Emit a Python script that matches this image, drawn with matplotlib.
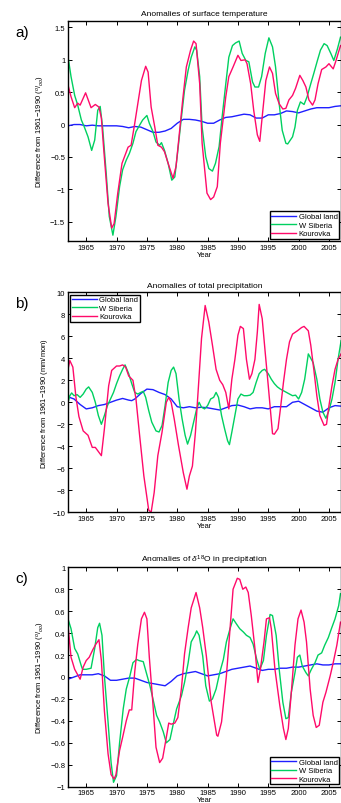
import matplotlib
matplotlib.use('Agg')
import matplotlib.pyplot as plt
from matplotlib.ticker import FuncFormatter

plt.rcParams['font.family'] = ['Liberation Sans', 'DejaVu Sans']
plt.rcParams['mathtext.fontset'] = 'custom'
plt.rcParams['mathtext.rm'] = 'Liberation Sans'
plt.rcParams['mathtext.it'] = 'Liberation Sans:italic'

# ---- a) surface temperature ----
temp_global_yr = [1962, 1963, 1964, 1965, 1966, 1967, 1968, 1969, 1970, 1971, 1972, 1973, 1974, 1975,
                  1976, 1977, 1978, 1979, 1980, 1981, 1982, 1983, 1984, 1985, 1986, 1987, 1988, 1989,
                  1990, 1991, 1992, 1993, 1994, 1995, 1996, 1997, 1998, 1999, 2000, 2001, 2002, 2003,
                  2004, 2005, 2006, 2007]
temp_global = [-0.02, 0.0, 0.0, -0.02, -0.01, -0.02, -0.02, -0.02, -0.02, -0.03, -0.05, -0.03, -0.04, -0.08,
               -0.12, -0.12, -0.1, -0.06, 0.02, 0.08, 0.08, 0.07, 0.05, 0.02, 0.02, 0.07, 0.11, 0.12,
               0.14, 0.16, 0.15, 0.1, 0.1, 0.15, 0.15, 0.17, 0.21, 0.2, 0.18, 0.21, 0.24, 0.26,
               0.26, 0.26, 0.28, 0.29]

temp_wsib_yr = [1962, 1962.5, 1963.1, 1963.6, 1964.2, 1964.7, 1965.3, 1965.9, 1966.4, 1966.9, 1967.3, 1967.7,
                1968.3, 1968.8, 1969.4, 1969.9, 1970.5, 1971, 1971.6, 1972.1, 1972.7, 1973.2, 1973.8, 1974.3,
                1975, 1975.4, 1976, 1976.5, 1977.1, 1977.4, 1977.9, 1978.5, 1979.1, 1979.6, 1980.1, 1980.7,
                1981.2, 1981.8, 1982.3, 1982.9, 1983.2, 1983.7, 1984.1, 1984.7, 1985.2, 1985.8, 1986.3,
                1986.9, 1987.4, 1988, 1988.5, 1989.1, 1989.6, 1990.2, 1990.7, 1991.3, 1991.8, 1992.4,
                1992.8, 1993.4, 1993.9, 1994.5, 1995.1, 1995.7, 1996.2, 1996.8, 1997.3, 1997.9, 1998.2,
                1999, 1999.4, 1999.8, 2000.3, 2000.9, 2001.4, 2002, 2002.5, 2003.1, 2003.6, 2004.2,
                2004.7, 2005.3, 2005.8, 2006.4, 2006.9]
temp_wsib = [1.05, 0.74, 0.45, 0.3, 0.07, -0.04, -0.19, -0.4, -0.24, 0.22, 0.28, -0.04,
             -0.76, -1.42, -1.71, -1.42, -0.96, -0.7, -0.55, -0.45, -0.29, -0.11, -0.01, 0.07,
             0.14, 0.02, -0.11, -0.27, -0.32, -0.28, -0.4, -0.6, -0.86, -0.81, -0.4, 0.12,
             0.53, 0.84, 1.04, 1.2, 1.15, 0.74, -0.04, -0.5, -0.68, -0.72, -0.6,
             -0.34, 0.12, 0.63, 1.04, 1.22, 1.26, 1.29, 1.1, 0.99, 0.97, 0.66,
             0.58, 0.58, 0.74, 1.1, 1.34, 1.2, 0.89, 0.32, -0.09, -0.29, -0.3,
             -0.19, -0.04, 0.22, 0.35, 0.31, 0.43, 0.63, 0.79, 0.99, 1.15, 1.25,
             1.22, 1.1, 0.99, 1.17, 1.35]

temp_kour_yr = [1962, 1962.5, 1963.1, 1963.6, 1964, 1964.9, 1965.8, 1966.5, 1967.1, 1967.5, 1967.9, 1968.6,
                1969.2, 1969.6, 1970.2, 1970.9, 1971.3, 1971.9, 1972.4, 1973, 1973.5, 1974.1, 1974.8,
                1975.2, 1975.7, 1976.3, 1976.8, 1977.4, 1977.9, 1978.5, 1979.3, 1979.8, 1980.4, 1980.9,
                1981.5, 1982.2, 1982.7, 1983.1, 1983.7, 1984.1, 1984.9, 1985.5, 1986, 1986.6, 1987.1,
                1988, 1988.5, 1989.2, 1990, 1990.5, 1991.2, 1991.5, 1992.1, 1992.6, 1993.2, 1993.6,
                1994, 1994.6, 1995.2, 1995.7, 1996.2, 1996.8, 1997.4, 1997.9, 1998.4, 1999, 1999.5,
                2000.2, 2000.7, 2001.2, 2001.7, 2002.3, 2002.7, 2003.2, 2003.8, 2004.5, 2005, 2005.7,
                2006.1, 2006.9]
temp_kour = [0.61, 0.43, 0.26, 0.33, 0.3, 0.49, 0.26, 0.31, 0.27, 0.1, -0.4, -1.22,
             -1.6, -1.53, -1.06, -0.6, -0.5, -0.35, -0.32, 0.02, 0.32, 0.68, 0.9,
             0.81, 0.27, -0.04, -0.32, -0.35, -0.42, -0.6, -0.83, -0.65, -0.09, 0.38,
             0.89, 1.15, 1.29, 1.25, 0.63, -0.29, -1.06, -1.16, -1.12, -0.96, -0.29,
             0.43, 0.74, 0.89, 1.07, 0.99, 1.0, 0.94, 0.63, 0.22, -0.16, -0.26,
             0.12, 0.68, 0.89, 0.79, 0.48, 0.32, 0.24, 0.25, 0.38, 0.45, 0.56,
             0.76, 0.68, 0.58, 0.38, 0.3, 0.38, 0.63, 0.85, 0.89, 0.94, 0.86,
             0.97, 1.22]

# ---- b) total precipitation ----
prec_global_yr = [1962, 1963, 1964, 1965, 1966, 1967, 1968, 1969, 1970, 1971, 1972, 1972.5, 1973, 1974,
                  1975, 1976, 1977, 1978, 1979, 1980, 1981, 1982, 1983, 1984, 1985, 1986, 1987, 1988,
                  1989, 1990, 1991, 1992, 1993, 1994, 1995, 1996, 1997, 1998, 1999, 2000, 2001, 2002,
                  2003, 2004, 2004.5, 2005, 2006, 2007]
prec_global = [0.5, 0.3, -0.2, -0.6, -0.5, -0.3, -0.2, 0.0, 0.2, 0.35, 0.2, 0.15, 0.3, 0.8,
               1.2, 1.15, 0.9, 0.7, 0.3, -0.4, -0.5, -0.4, -0.5, -0.45, -0.5, -0.6, -0.7, -0.5,
               -0.3, -0.25, -0.4, -0.6, -0.5, -0.5, -0.6, -0.4, -0.4, -0.4, 0.0, 0.1, -0.2, -0.5,
               -0.8, -0.9, -0.7, -0.5, -0.3, -0.35]

prec_wsib_yr = [1962, 1962.3, 1962.6, 1963, 1963.5, 1964, 1964.5, 1965, 1965.4, 1966, 1966.5, 1967,
                1967.5, 1968, 1968.5, 1969, 1969.5, 1970, 1970.5, 1971, 1971.4, 1972, 1972.5, 1973,
                1973.5, 1974, 1974.4, 1974.8, 1975.3, 1975.8, 1976.5, 1977, 1977.5, 1978, 1978.5,
                1979, 1979.4, 1979.8, 1980.3, 1980.8, 1981.3, 1981.7, 1982.2, 1982.7, 1983.2, 1983.6,
                1984, 1984.5, 1985, 1985.5, 1986, 1986.4, 1986.8, 1987.3, 1987.8, 1988.3, 1988.6,
                1989, 1989.5, 1990, 1990.5, 1991, 1991.5, 1992, 1992.5, 1993, 1993.5, 1994, 1994.4,
                1995, 1995.5, 1996, 1996.5, 1997, 1997.5, 1998, 1998.5, 1999, 1999.5, 2000, 2000.5,
                2001, 2001.6, 2002, 2002.4, 2003, 2003.5, 2004, 2004.5, 2005, 2005.5, 2006, 2006.5, 2007]
prec_wsib = [0.0, 0.6, 0.85, 0.6, 0.7, 0.45, 0.75, 1.2, 1.4, 0.9, 0.0, -1.2,
             -2.0, -1.2, -0.3, 0.3, 0.9, 1.7, 2.4, 3.0, 3.4, 2.6, 1.7, 0.9,
             0.75, 0.9, 1.0, 0.45, -0.75, -1.8, -2.6, -2.7, -2.1, -0.3, 1.8,
             2.9, 3.2, 2.6, 0.3, -1.5, -3.0, -3.8, -3.0, -1.8, -0.6, 0.0,
             -0.45, -0.6, -0.3, 0.3, 0.45, 0.9, 0.45, -1.2, -2.4, -3.5, -3.85,
             -2.7, -1.2, 0.3, 0.75, 0.6, 0.6, 0.65, 0.9, 1.8, 2.6, 2.9, 3.0,
             2.6, 2.1, 1.7, 1.4, 1.2, 1.05, 0.9, 0.75, 0.6, 0.65, 0.3, 0.9,
             2.1, 4.4, 4.0, 3.6, 2.1, 0.3, -0.9, -1.45, -0.75, 0.3, 1.8, 3.9, 5.6]

prec_kour_yr = [1962, 1962.3, 1962.8, 1963.3, 1963.8, 1964.5, 1965.3, 1966, 1966.5, 1967.5, 1968, 1968.7,
                1969.2, 1970, 1970.5, 1971, 1971.5, 1972, 1972.7, 1973.2, 1973.8, 1974.5, 1975.3,
                1975.7, 1976.2, 1976.8, 1977.5, 1978.2, 1978.6, 1979, 1979.5, 1980.2, 1981, 1981.6,
                1982, 1982.5, 1983, 1983.5, 1984, 1984.6, 1985.2, 1985.8, 1986.4, 1987, 1987.5, 1988,
                1988.5, 1989, 1989.5, 1990, 1990.4, 1990.9, 1991.4, 1991.9, 1992.3, 1992.8, 1993.2,
                1993.5, 1994, 1994.5, 1995, 1995.7, 1996, 1996.6, 1997, 1997.5, 1998, 1998.5, 1999,
                1999.8, 2000.5, 2000.9, 2001.6, 2002, 2002.5, 2003, 2003.5, 2004.2, 2004.6, 2005,
                2005.5, 2006, 2006.5, 2007]
prec_kour = [3.0, 3.8, 3.2, 0.5, -1.3, -2.6, -3.0, -4.1, -4.1, -4.85, -2.4, 1.5,
             2.9, 3.3, 3.3, 3.4, 3.2, 2.4, 2.0, 0.3, -3.0, -6.7, -9.8,
             -10.0, -8.2, -4.85, -2.7, 0.0, 0.45, 0.0, -1.5, -3.9, -6.4, -7.9,
             -6.7, -5.8, -2.7, 1.5, 5.8, 8.8, 7.3, 5.2, 3.0, 2.0, 1.6, 0.9,
             -0.6, 2.1, 3.9, 6.1, 6.9, 6.7, 3.9, 2.1, 2.6, 3.9, 6.4,
             8.9, 7.6, 4.5, 1.5, -2.85, -2.9, -2.4, -0.6, 1.8, 3.9, 5.5, 6.2,
             6.5, 6.8, 6.9, 6.5, 5.2, 3.0, 0.6, -1.2, -2.1, -2.0, -0.3,
             1.5, 3.0, 3.9, 4.4]

# ---- c) d18O in precipitation ----
d18o_global_yr = [1962, 1963, 1964, 1965, 1966, 1967, 1968, 1969, 1970, 1971, 1972, 1973, 1974, 1975,
                  1976, 1977, 1978, 1979, 1980, 1981, 1982, 1983, 1984, 1985, 1986, 1987, 1988, 1989,
                  1990, 1991, 1992, 1993, 1994, 1995, 1996, 1997, 1998, 1999, 2000, 2001, 2002, 2003,
                  2004, 2005, 2006, 2007]
d18o_global = [-0.02, 0.0, 0.02, 0.02, 0.02, 0.03, 0.01, -0.03, -0.03, -0.02, -0.01, -0.01, -0.03, -0.05,
               -0.06, -0.07, -0.08, -0.04, 0.01, 0.03, 0.04, 0.05, 0.03, 0.01, 0.02, 0.03, 0.05, 0.07,
               0.08, 0.09, 0.1, 0.08, 0.06, 0.07, 0.07, 0.08, 0.08, 0.09, 0.09, 0.1, 0.11, 0.12,
               0.11, 0.11, 0.12, 0.12]

d18o_wsib_yr = [1962, 1962.5, 1963.1, 1963.6, 1964.2, 1964.4, 1965, 1965.8, 1966.4, 1966.9, 1967.2, 1967.6,
                1968, 1968.6, 1969.1, 1969.5, 1970, 1970.5, 1971.1, 1971.6, 1972.2, 1972.7, 1973.3,
                1973.7, 1974.4, 1974.9, 1975.5, 1976, 1976.6, 1977.1, 1977.7, 1978.2, 1978.8, 1979.3,
                1979.9, 1980.7, 1981.2, 1981.8, 1982.3, 1982.9, 1983.2, 1983.6, 1984.2, 1984.7, 1985.3,
                1985.8, 1986.4, 1987, 1987.6, 1988.1, 1988.7, 1989.2, 1989.8, 1990.3, 1990.9, 1991.4,
                1992, 1992.5, 1993.1, 1993.6, 1994.2, 1994.7, 1995.3, 1995.7, 1996.3, 1996.8, 1997.4,
                1997.9, 1998.3, 1998.8, 1999.4, 1999.8, 2000.2, 2000.6, 2001.2, 2001.6, 2002.1, 2002.7,
                2003.2, 2003.8, 2004.3, 2004.9, 2005.4, 2006, 2006.6, 2006.9]
d18o_wsib = [0.53, 0.44, 0.26, 0.21, 0.1, 0.07, 0.07, 0.08, 0.26, 0.45, 0.49, 0.38,
             0.01, -0.41, -0.78, -0.96, -0.9, -0.6, -0.29, -0.11, 0.01, 0.13, 0.16,
             0.15, 0.14, 0.04, -0.08, -0.2, -0.35, -0.41, -0.5, -0.6, -0.57, -0.44,
             -0.29, -0.17, -0.05, 0.13, 0.32, 0.38, 0.42, 0.38, 0.19, -0.08, -0.22,
             -0.2, -0.11, 0.04, 0.16, 0.32, 0.44, 0.53, 0.48, 0.44, 0.41, 0.38,
             0.36, 0.3, 0.16, 0.07, 0.15, 0.38, 0.57, 0.56, 0.38, 0.07, -0.23,
             -0.38, -0.37, -0.14, 0.04, 0.18, 0.2, 0.1, 0.04, 0.01, 0.07, 0.13,
             0.2, 0.22, 0.29, 0.36, 0.44, 0.53, 0.65, 0.76]

d18o_kour_yr = [1962, 1962.5, 1963.1, 1963.6, 1964, 1964.5, 1965, 1965.5, 1966.1, 1966.6, 1967.1, 1967.5,
                1968, 1968.6, 1969.1, 1969.6, 1969.9, 1970.5, 1971, 1971.6, 1972.1, 1972.5, 1973, 1973.5,
                1974.1, 1974.6, 1975, 1975.4, 1976, 1976.5, 1977.1, 1977.6, 1978.2, 1978.6, 1979, 1979.6,
                1980.1, 1980.7, 1981.2, 1981.8, 1982.3, 1983.1, 1983.7, 1984.2, 1984.8, 1985.6, 1986.5,
                1986.7, 1987.3, 1988.1, 1988.7, 1989.2, 1989.9, 1990.3, 1990.8, 1991.3, 1991.7, 1992.2,
                1992.8, 1993.3, 1993.7, 1994.3, 1994.7, 1995.2, 1995.5, 1996.1, 1996.9, 1997.5, 1997.9,
                1998.3, 1998.8, 1999.4, 1999.9, 2000.4, 2000.9, 2001.3, 2001.9, 2002.4, 2002.9, 2003.4,
                2004, 2004.5, 2005.2, 2005.7, 2006.3, 2006.9]
d18o_kour = [0.47, 0.18, 0.07, 0.02, -0.02, 0.09, 0.15, 0.18, 0.25, 0.3, 0.34, 0.15,
             -0.31, -0.7, -0.89, -0.93, -0.89, -0.67, -0.55, -0.4, -0.3, -0.3, 0.05, 0.3,
             0.53, 0.59, 0.53, 0.18, -0.25, -0.64, -0.78, -0.74, -0.55, -0.42, -0.43, -0.42,
             -0.37, -0.1, 0.21, 0.45, 0.63, 0.77, 0.63, 0.45, 0.19, -0.23, -0.53,
             -0.54, -0.41, 0.01, 0.44, 0.8, 0.9, 0.89, 0.8, 0.82, 0.77, 0.56,
             0.26, -0.05, 0.07, 0.32, 0.53, 0.54, 0.44, 0.07, -0.26, -0.47, -0.57,
             -0.47, -0.14, 0.29, 0.53, 0.61, 0.5, 0.32, -0.11, -0.35, -0.46, -0.44,
             -0.23, -0.14, 0.01, 0.13, 0.29, 0.5]

series_names = ['Global land', 'W Siberia', 'Kourovka']
series_colors = ['#1f1fff', '#00d060', '#ff0a6a']


def fmt(v, pos):
    v = round(v, 6)
    if v == 0:
        return '0'
    return ('%g' % v).replace('-', '\u2212')


def draw_panel(rect, letter, title, ylabel, data, ylim, yticks, legend_loc):
    ax = fig.add_axes(rect)
    for (xs, ys), name, col in zip(data, series_names, series_colors):
        ax.plot(xs, ys, color=col, linewidth=1.0, label=name)
    ax.set_xlim(1962, 2007.05)
    ax.set_ylim(*ylim)
    ax.set_xticks(range(1965, 2006, 5))
    ax.set_yticks(yticks)
    ax.yaxis.set_major_formatter(FuncFormatter(fmt))
    ax.tick_params(direction='in', top=True, right=True, labelsize=5.5, length=3, width=0.7, pad=2)
    for s in ax.spines.values():
        s.set_linewidth(1.0)
    ax.set_title(title, fontsize=6, pad=4)
    ax.set_xlabel('Year', fontsize=5.5, labelpad=0)
    ax.set_ylabel(ylabel, fontsize=5.5, labelpad=2)
    leg = ax.legend(loc=legend_loc, fontsize=5.5, handlelength=3.3, borderpad=0.2,
                    labelspacing=0.15, handletextpad=0.3, fancybox=False, framealpha=1,
                    borderaxespad=0.3)
    leg.get_frame().set_edgecolor('black')
    leg.get_frame().set_linewidth(1.0)
    fig.text(0.045, rect[1] + rect[3] - 0.005, letter, fontsize=11, va='top', ha='left')
    return ax


fig = plt.figure(figsize=(3.41, 8.04), dpi=100)
L, W = 68 / 341, (341.4 - 68) / 341

draw_panel([L, 1 - 242 / 804, W, 220 / 804], 'a)', 'Anomalies of surface temperature',
           r'Difference from 1961$-$1990 ($^{o}/_{oo}$)',
           [(temp_global_yr, temp_global), (temp_wsib_yr, temp_wsib), (temp_kour_yr, temp_kour)],
           (-1.8, 1.6), [-1.5, -1, -0.5, 0, 0.5, 1, 1.5], 'lower right')

draw_panel([L, 1 - 513.3 / 804, W, 220 / 804], 'b)', 'Anomalies of total precipitation',
           r'Difference from 1961$-$1990 (mm/mon)',
           [(prec_global_yr, prec_global), (prec_wsib_yr, prec_wsib), (prec_kour_yr, prec_kour)],
           (-10, 10), list(range(-10, 11, 2)), 'upper left')

draw_panel([L, 1 - 787.7 / 804, W, 219.4 / 804], 'c)', r'Anomalies of $\delta^{18}$O in precipitation',
           r'Difference from 1961$-$1990 ($^{o}/_{oo}$)',
           [(d18o_global_yr, d18o_global), (d18o_wsib_yr, d18o_wsib), (d18o_kour_yr, d18o_kour)],
           (-1, 1), [round(-1 + 0.2 * i, 1) for i in range(11)], 'lower right')

fig.savefig('out.png', dpi=100)
